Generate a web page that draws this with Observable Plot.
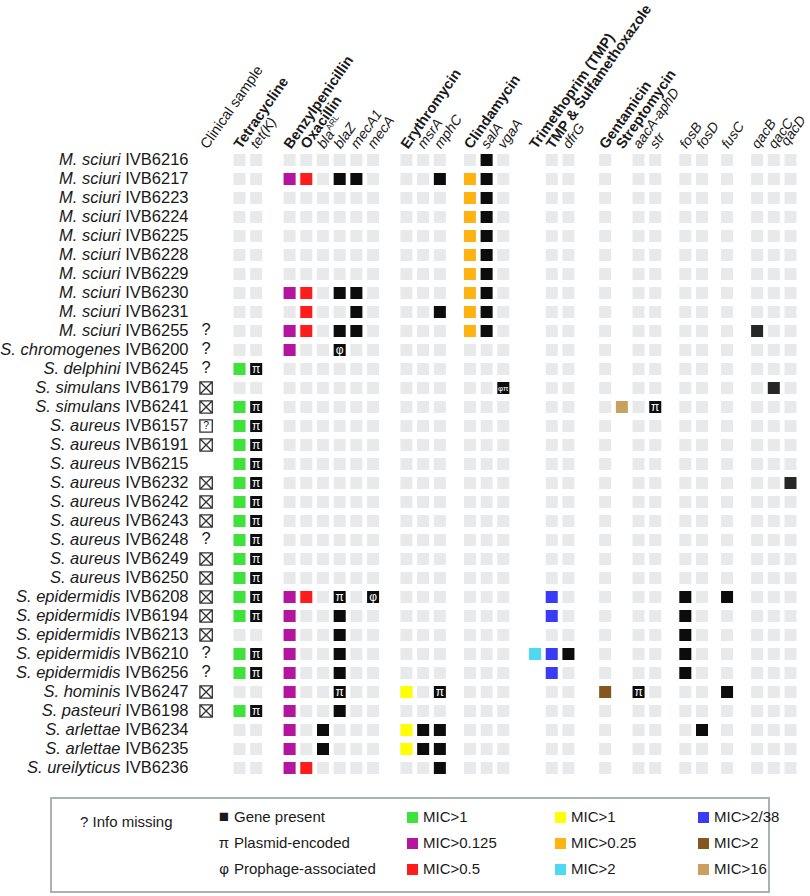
<!DOCTYPE html>
<html><head><meta charset="utf-8">
<script src="https://cdn.jsdelivr.net/npm/d3@7"></script>
<script src="https://cdn.jsdelivr.net/npm/@observablehq/plot@0.6"></script>
<style>
body{margin:0;background:#fff;font-family:"Liberation Sans",Arial,sans-serif;color:#1a1a1a;}
#chart{width:810px;height:790px;}
.legend{position:relative;margin-left:50px;margin-top:7px;width:720px;height:96px;border:2px solid #a9b1b1;box-sizing:border-box;font-size:15px;}
.legend .it{position:absolute;white-space:nowrap;line-height:18px;}
.legend .sw{display:inline-block;width:11px;height:11px;margin-right:5px;vertical-align:-1px;}
.legend .sy{display:inline-block;width:12px;margin-right:4px;text-align:center;}
</style></head><body>
<div id="chart"></div>
<div class="legend" id="legend"></div>
<script>
// ---------- data ----------
const species = ["M. sciuri","M. sciuri","M. sciuri","M. sciuri","M. sciuri","M. sciuri","M. sciuri","M. sciuri","M. sciuri","M. sciuri",
  "S. chromogenes","S. delphini","S. simulans","S. simulans",
  "S. aureus","S. aureus","S. aureus","S. aureus","S. aureus","S. aureus","S. aureus","S. aureus","S. aureus",
  "S. epidermidis","S. epidermidis","S. epidermidis","S. epidermidis","S. epidermidis",
  "S. hominis","S. pasteuri","S. arlettae","S. arlettae","S. ureilyticus"];
const ids = ["IVB6216","IVB6217","IVB6223","IVB6224","IVB6225","IVB6228","IVB6229","IVB6230","IVB6231","IVB6255",
  "IVB6200","IVB6245","IVB6179","IVB6241",
  "IVB6157","IVB6191","IVB6215","IVB6232","IVB6242","IVB6243","IVB6248","IVB6249","IVB6250",
  "IVB6208","IVB6194","IVB6213","IVB6210","IVB6256",
  "IVB6247","IVB6198","IVB6234","IVB6235","IVB6236"];
// clinical sample: "?" info missing, "x" boxed cross, "q" boxed question mark, "" none
const clinical = ["","","","","","","","","","?","?","?","x","x","q","x","","x","x","x","?","x","x",
  "x","x","x","?","?","x","x","","",""];

const columnKeys = ["tet","tetK","pen","oxa","blaARL","blaZ","mecA1","mecA","ery","msrA","mphC","cli","salA","vgaA",
  "tmp","sxt","dfrG","gen","strep","aacA","str","fosB","fosD","fusC","qacB","qacC","qacD"];
const columnLabels = ["Tetracycline","tet(K)","Benzylpenicillin","Oxacillin","blaARL","blaZ","mecA1","mecA",
  "Erythromycin","msrA","mphC","Clindamycin","salA","vgaA","Trimethoprim (TMP)","TMP & Sulfamethoxazole","dfrG",
  "Gentamicin","Streptomycin","aacA-aphD","str","fosB","fosD","fusC","qacB","qacC","qacD"];
const columnStyle = ["bold","italic","bold","bold","italic","italic","italic","italic","bold","italic","italic",
  "bold","italic","italic","bold","bold","italic","bold","bold","italic","italic","italic","italic","italic","italic","italic","italic"];
const columnGroup = [1,1,2,2,2,2,2,2,3,3,3,4,4,4,5,5,5,6,6,6,6,7,7,8,9,9,9];
const noBackground = ["tmp","strep"];

// MIC colours per antibiotic column; genes are black
const micColor = {tet:"#3fe23a",pen:"#b5149f",oxa:"#ff1c1c",ery:"#ffff00",cli:"#ffb311",
  tmp:"#4dd9f0",sxt:"#3b3bf6",gen:"#85561f",strep:"#c9a05f"};
const geneColor = "#0c0c0c";
const qacColor = "#262828";
const greyColor = "#e7e9ea";

// per strain: present entries, "key" or "key:annotation" (π plasmid, φ prophage)
const hits = [
  "salA",
  "pen oxa blaZ mecA1 mphC cli salA",
  "cli salA",
  "cli salA",
  "cli salA",
  "cli salA",
  "cli salA",
  "pen oxa blaZ mecA1 cli salA",
  "oxa mecA1 mphC cli salA",
  "pen oxa blaZ mecA1 cli salA qacB",
  "pen blaZ:φ",
  "tet tetK:π",
  "vgaA:φπ qacC",
  "tet tetK:π strep str:π",
  "tet tetK:π",
  "tet tetK:π",
  "tet tetK:π",
  "tet tetK:π qacD",
  "tet tetK:π",
  "tet tetK:π",
  "tet tetK:π",
  "tet tetK:π",
  "tet tetK:π",
  "tet tetK:π pen oxa blaZ:π mecA:φ sxt fosB fusC",
  "tet tetK:π pen blaZ sxt fosB",
  "pen blaZ fosB",
  "tet tetK:π pen blaZ tmp sxt dfrG fosB",
  "tet tetK:π pen blaZ sxt fosB",
  "pen blaZ:π ery mphC:π gen aacA:π fusC",
  "tet tetK:π pen blaZ",
  "pen blaARL ery msrA mphC fosD",
  "pen blaARL ery msrA mphC",
  "pen oxa mphC"
];

const legendRows = [
  [{sym:"■",text:"Gene present"},{sw:"#3fe23a",text:"MIC>1"},{sw:"#ffff00",text:"MIC>1"},{sw:"#3b3bf6",text:"MIC>2/38"}],
  [{sym:"π",text:"Plasmid-encoded"},{sw:"#b5149f",text:"MIC>0.125"},{sw:"#ffb311",text:"MIC>0.25"},{sw:"#85561f",text:"MIC>2"}],
  [{sym:"φ",text:"Prophage-associated"},{sw:"#ff1c1c",text:"MIC>0.5"},{sw:"#4dd9f0",text:"MIC>2"},{sw:"#c9a05f",text:"MIC>16"}]
];

// ---------- layout of column slots (groups separated by gaps) ----------
const gapBefore = {2:1,3:1,4:0.8,5:0.9,6:1.2,7:0.8,8:0.5,9:0.8};
const slot = {};
{
  let s = 0;
  columnKeys.forEach((k,i)=>{
    if (i>0) { s += 1; if (columnGroup[i]!==columnGroup[i-1]) s += gapBefore[columnGroup[i]]; }
    slot[k] = s;
  });
}
const clinicalSlot = -2;

// ---------- derived tables ----------
const bg = [];
ids.forEach(id=>columnKeys.forEach(k=>{ if(!noBackground.includes(k)) bg.push({id, x:slot[k]}); }));
const cells = [], notes = [];
hits.forEach((h,i)=>{
  h.split(" ").filter(Boolean).forEach(tok=>{
    const [k,ann] = tok.split(":");
    const color = micColor[k] || (k.startsWith("qac") ? qacColor : geneColor);
    cells.push({id:ids[i], x:slot[k], color});
    if (ann) notes.push({id:ids[i], x:slot[k], ann});
  });
});
const clin = ids.map((id,i)=>({id, c:clinical[i]})).filter(d=>d.c);
const header = columnKeys.map((k,i)=>({x:slot[k], label:columnLabels[i], style:columnStyle[i]}));
const rowsData = ids.map((id,i)=>({id, sp:species[i]}));

const boxX = {draw(ctx,size){const s=Math.sqrt(size)/2;ctx.moveTo(-s,-s);ctx.lineTo(s,-s);ctx.lineTo(s,s);ctx.lineTo(-s,s);ctx.closePath();ctx.moveTo(-s,-s);ctx.lineTo(s,s);ctx.moveTo(s,-s);ctx.lineTo(-s,s);}};
const boxO = {draw(ctx,size){const s=Math.sqrt(size)/2;ctx.moveTo(-s,-s);ctx.lineTo(s,-s);ctx.lineTo(s,s);ctx.lineTo(-s,s);ctx.closePath();}};

const H = 790;
const hdr = {frameAnchor:"top", rotate:-55, textAnchor:"start", fontSize:14.5, dx:-7, dy:-2};
const plot = Plot.plot({
  width: 810, height: H,
  marginTop: 145.4, marginBottom: H-781.4, marginLeft: 188, marginRight: 10,
  style: {fontFamily: '"Liberation Sans", Arial, sans-serif', color:"#1a1a1a", background:"#fff"},
  x: {type:"linear", domain:[0, slot.qacD], range:[239, 790], axis:null},
  y: {type:"band", domain: ids, padding:0, axis:null},
  color: {type:"identity"},
  marks: [
    Plot.dot(bg, {x:"x", y:"id", symbol:"square", r:6.77, fill:greyColor}),
    Plot.dot(cells, {x:"x", y:"id", symbol:"square", r:6.77, fill:"color"}),
    Plot.text(notes.filter(d=>d.ann!=="φπ"), {x:"x", y:"id", text:"ann", fill:"white", fontSize:12}),
    Plot.text(notes.filter(d=>d.ann==="φπ"), {x:"x", y:"id", text:"ann", fill:"white", fontSize:8}),
    // clinical sample
    Plot.text(clin.filter(d=>d.c==="?"), {x:()=>clinicalSlot, y:"id", text:()=>"?", fontSize:16.5, dy:-1}),
    Plot.dot(clin.filter(d=>d.c==="x"), {x:()=>clinicalSlot, y:"id", symbol:boxX, r:7, fill:"none", stroke:"#333", strokeWidth:1.3}),
    Plot.dot(clin.filter(d=>d.c==="q"), {x:()=>clinicalSlot, y:"id", symbol:boxO, r:7, fill:"none", stroke:"#333", strokeWidth:1.3}),
    Plot.text(clin.filter(d=>d.c==="q"), {x:()=>clinicalSlot, y:"id", text:()=>"?", fontSize:10.5}),
    // row labels
    Plot.text(rowsData, {y:"id", text:"id", frameAnchor:"left", textAnchor:"end", fontSize:16.5}),
    Plot.text(rowsData, {y:"id", text:"sp", frameAnchor:"left", textAnchor:"end", dx:-68, fontSize:16.5, fontStyle:"italic"}),
    // header labels
    Plot.text([{x:clinicalSlot, label:"Clinical sample"}], {x:"x", text:"label", ...hdr}),
    Plot.text(header.filter(d=>d.style==="bold"), {x:"x", text:"label", ...hdr, fontWeight:"bold"}),
    Plot.text(header.filter(d=>d.style==="italic"), {x:"x", text:"label", ...hdr, fontSize:14, fontStyle:"italic"})
  ]
});
document.getElementById("chart").appendChild(plot);
const allText = d3.select(plot).selectAll("text");
// superscript for bla^ARL
allText.filter(function(){return this.textContent==="blaARL";}).each(function(){
  const t = d3.select(this); t.text(null);
  t.append("tspan").text("bla");
  t.append("tspan").attr("font-size","8.5px").attr("font-style","normal").attr("dy","-6").text("ARL");
});
// keep the last header label inside the right edge
allText.filter(function(){return this.textContent==="qacD";}).each(function(){
  const tr = this.getAttribute("transform") || "";
  this.setAttribute("transform", tr + " translate(0,-5)");
});

// ---------- legend ----------
const lg = document.getElementById("legend");
const colX = [166, 355, 503, 646];
const rowY = [9, 35, 61];
const info = document.createElement("div");
info.className = "it"; info.style.left = "28px"; info.style.top = "14px"; info.textContent = "? Info missing";
lg.appendChild(info);
legendRows.forEach((row,ri)=>row.forEach((it,ci)=>{
  const d = document.createElement("div"); d.className = "it";
  d.style.left = colX[ci]+"px"; d.style.top = rowY[ri]+"px";
  if (it.sw) { const s=document.createElement("span"); s.className="sw"; s.style.background=it.sw; d.appendChild(s); }
  else { const s=document.createElement("span"); s.className="sy"; s.textContent=it.sym; if(it.sym==="■"){s.style.fontSize="17px";} d.appendChild(s); }
  d.appendChild(document.createTextNode(it.text));
  lg.appendChild(d);
}));
</script>
</body></html>
